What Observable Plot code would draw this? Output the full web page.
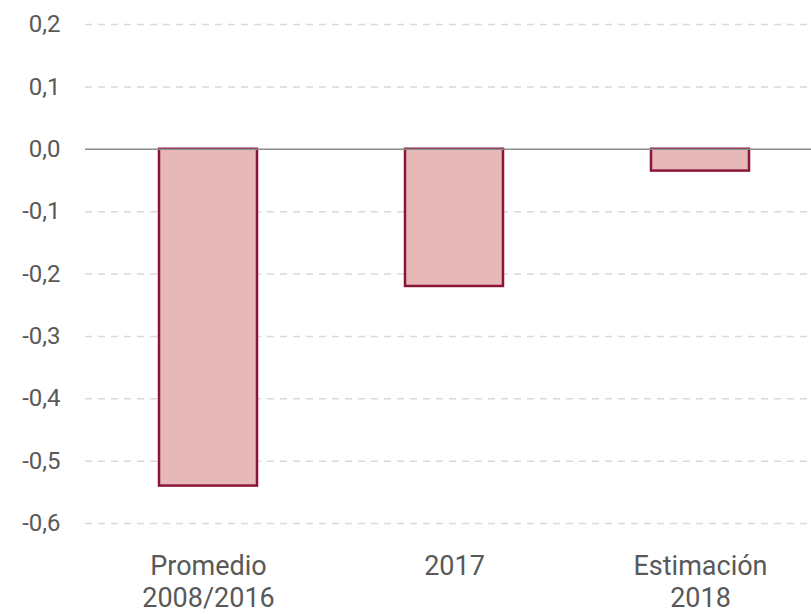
<!DOCTYPE html>
<html>
<head>
<meta charset="utf-8">
<script src="https://cdn.jsdelivr.net/npm/d3@7"></script>
<script src="https://cdn.jsdelivr.net/npm/@observablehq/plot@0.6"></script>
<style>
  html, body { margin: 0; padding: 0; background: #fff; }
  #chart svg { display: block; }
</style>
</head>
<body>
<div id="chart"></div>
<script>
const categories = ["Promedio\n2008/2016", "2017", "Estimación\n2018"];
const values = [-0.54, -0.22, -0.035];
const yTicks = [0.2, 0.1, 0.0, -0.1, -0.2, -0.3, -0.4, -0.5, -0.6];

const data = categories.map((c, i) => ({category: c, value: values[i]}));
const fmt = d => d.toFixed(1).replace(".", ",").replace("-0,0", "0,0");

const chart = Plot.plot({
  width: 811,
  height: 614,
  marginLeft: 85,
  marginRight: 0,
  marginTop: 24,
  marginBottom: 91,
  style: {fontFamily: "Roboto, sans-serif", fontSize: "24px", color: "#595959", background: "#fff"},
  x: {domain: categories, range: [11.7, 897.3], padding: 0.6, label: null},
  y: {domain: [-0.6, 0.2], label: null},
  marks: [
    Plot.gridY(yTicks.filter(d => d !== 0), {stroke: "#d9d9d9", strokeOpacity: 1, strokeWidth: 1.5, strokeDasharray: "7,6"}),
    Plot.barY(data, {x: "category", y: "value", fill: "#e6b8b7", stroke: "#8b1538", strokeWidth: 2.5}),
    Plot.ruleY([0], {stroke: "#8c8c8c", strokeWidth: 1.5}),
    Plot.axisY(yTicks, {tickSize: 0, tickPadding: 25, tickFormat: fmt, fontSize: 24, fill: "#595959", label: null}),
    Plot.axisX({tickSize: 0, tickPadding: 28, fontSize: 27, fill: "#595959", lineHeight: 1.2, label: null})
  ]
});
document.getElementById("chart").appendChild(chart);
</script>
</body>
</html>
